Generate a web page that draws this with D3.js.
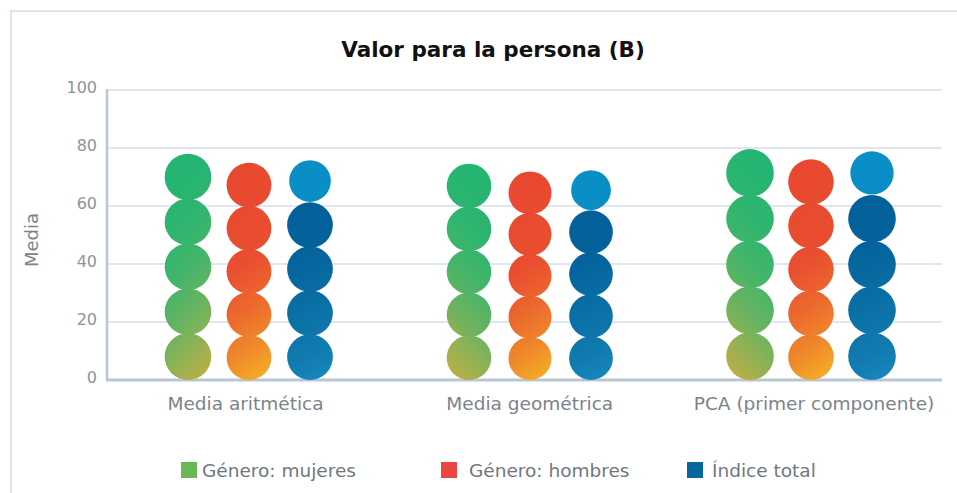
<!DOCTYPE html>
<html>
<head>
<meta charset="utf-8">
<script src="https://cdn.jsdelivr.net/npm/d3@7"></script>
<style>
  body { margin: 0; background: #fff; }
  svg { display: block; font-family: "DejaVu Sans", sans-serif; }
</style>
</head>
<body>
<svg id="chart" width="957" height="493"></svg>
<script>
// Pictorial bars: each column is a stack of 5 circles, top circle = value.

const categories = ["Media aritmética", "Media geométrica", "PCA (primer componente)"];
const seriesNames = ["Género: mujeres", "Género: hombres", "Índice total"];
const mujeres = [70.0, 66.9, 71.4];
const hombres = [67.2, 64.5, 68.3];
const total = [68.6, 65.5, 71.4];
const yTicks = [0, 20, 40, 60, 80, 100];

const seriesValues = [mujeres, hombres, total];
const legendColors = ["#6ab755", "#ed4540", "#05689f"];
const gradStops = [
  [["0", "#21b473"], ["0.3", "#2cb570"], ["0.5", "#42b56a"], ["0.7", "#6db35f"], ["0.85", "#9ab151"], ["1", "#c6ad3f"]],
  [["0", "#e8472f"], ["0.45", "#e94e30"], ["0.65", "#ec6a2d"], ["0.82", "#ef8a2a"], ["1", "#f5b526"]],
  [["0", "#035e98"], ["0.4", "#04629b"], ["0.65", "#0a6fa5"], ["0.85", "#117bb0"], ["1", "#1789bd"]]
];
// gradient slant per series (horizontal share of the direction)
const slant = [1, 0.7, 0.5];

const svg = d3.select("#chart");

// outer frame
svg.append("rect")
  .attr("x", 11).attr("y", 11)
  .attr("width", 960).attr("height", 500)
  .attr("fill", "none")
  .attr("stroke", "#dde5ef")
  .attr("stroke-width", 2);

const y = d3.scaleLinear().domain([0, 100]).range([380, 90]);
const x = d3.scaleBand().domain(categories).range([108.5, 951.5]);
const sub = d3.scalePoint().domain(seriesNames).range([-61, 61]);
const xLabel = d3.scalePoint().domain(categories).range([245.5, 814]);

// grid
svg.append("g")
  .selectAll("line")
  .data(yTicks.filter(d => d > 0))
  .join("line")
  .attr("x1", 107).attr("x2", 942)
  .attr("y1", d => y(d)).attr("y2", d => y(d))
  .attr("stroke", "#dfe6ef")
  .attr("stroke-width", 2);

// y tick labels
svg.append("g")
  .selectAll("text")
  .data(yTicks)
  .join("text")
  .attr("x", 97)
  .attr("y", d => y(d) + 3)
  .attr("text-anchor", "end")
  .attr("font-size", 16)
  .attr("fill", "#8c939c")
  .text(d => d);

// axis lines
svg.append("line")
  .attr("x1", 107).attr("x2", 107)
  .attr("y1", 89).attr("y2", 381)
  .attr("stroke", "#b8c5d5").attr("stroke-width", 2.5);
svg.append("line")
  .attr("x1", 106).attr("x2", 942)
  .attr("y1", 380).attr("y2", 380)
  .attr("stroke", "#b8c5d5").attr("stroke-width", 3);

// columns of circles
const defs = svg.append("defs");
const y0 = y(0);
const cols = [];
categories.forEach((c, i) => {
  seriesNames.forEach((s, j) => {
    const cx = x(c) + x.bandwidth() / 2 + sub(s);
    const yTop = y(seriesValues[j][i]);
    const step = (y0 - yTop) / 4.52;
    const r = step * 0.52;
    cols.push({ i, j, cx, yTop, step, r });
  });
});

cols.forEach((d, k) => {
  // green columns of the 2nd and 3rd group run right-to-left
  const dir = (d.j === 0 && d.i > 0) ? -1 : 1;
  const kx = slant[d.j] * dir;
  const top = d.yTop - d.r;
  const h = y0 - top;
  const len = Math.hypot(kx, 1);
  const ux = kx / len, uy = 1 / len;
  const x1 = d.cx - d.r * dir;
  const L = (2 * d.r * Math.abs(kx) + h) / len;
  const g = defs.append("linearGradient")
    .attr("id", "grad" + k)
    .attr("gradientUnits", "userSpaceOnUse")
    .attr("x1", x1).attr("y1", top)
    .attr("x2", x1 + ux * L).attr("y2", top + uy * L);
  g.selectAll("stop")
    .data(gradStops[d.j])
    .join("stop")
    .attr("offset", s => s[0])
    .attr("stop-color", s => s[1]);
});

svg.append("g")
  .selectAll("g")
  .data(cols)
  .join("g")
  .each(function(d, k) {
    const n = d3.range(5);
    d3.select(this).selectAll("circle")
      .data(n)
      .join("circle")
      .attr("cx", d.cx)
      .attr("cy", m => y0 - d.r - m * d.step)
      .attr("r", m => (d.j === 2 && m === 4) ? d.r * 0.91 : d.r)
      .attr("fill", m => (d.j === 2 && m === 4) ? "#0a8ec6" : "url(#grad" + k + ")");
  });

// x labels
svg.append("g")
  .selectAll("text")
  .data(categories)
  .join("text")
  .attr("x", d => xLabel(d))
  .attr("y", 410)
  .attr("text-anchor", "middle")
  .attr("font-size", 18.5)
  .attr("fill", "#7b838d")
  .text(d => d);

// y title
svg.append("text")
  .attr("transform", "translate(38,240) rotate(-90)")
  .attr("text-anchor", "middle")
  .attr("font-size", 18)
  .attr("fill", "#7b838d")
  .text("Media");

// title
svg.append("text")
  .attr("x", 493).attr("y", 57)
  .attr("text-anchor", "middle")
  .attr("font-size", 21.5)
  .attr("font-weight", "bold")
  .attr("fill", "#111")
  .text("Valor para la persona (B)");

// legend
const legX = [181, 441, 687];
const legend = svg.append("g")
  .selectAll("g")
  .data(seriesNames)
  .join("g")
  .attr("transform", (d, i) => `translate(${legX[i]},462)`);
legend.append("rect")
  .attr("width", 16).attr("height", 16)
  .attr("fill", (d, i) => legendColors[i]);
legend.append("text")
  .attr("x", (d, i) => i === 0 ? 21 : i === 1 ? 28 : 25)
  .attr("y", 15)
  .attr("font-size", 18.5)
  .attr("fill", "#6f7882")
  .text(d => d);
</script>
</body>
</html>
